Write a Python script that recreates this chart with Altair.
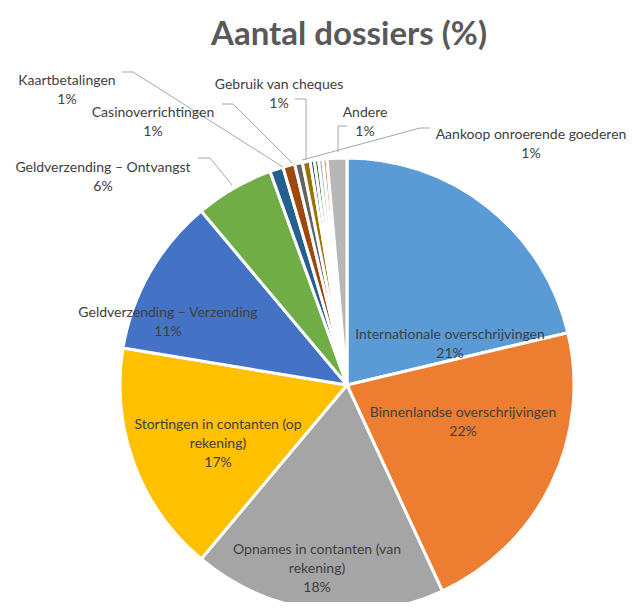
import altair as alt
import pandas as pd

# ---- data -------------------------------------------------------------
categories = [
    "Internationale overschrijvingen",
    "Binnenlandse overschrijvingen",
    "Opnames in contanten (van rekening)",
    "Stortingen in contanten (op rekening)",
    "Geldverzending – Verzending",
    "Geldverzending – Ontvangst",
    "Kaartbetalingen",
    "Casinoverrichtingen",
    "Aankoop onroerende goederen",
    "Gebruik van cheques",
    "cat11",
    "cat12",
    "cat13",
    "cat14",
    "Andere",
]
values = [21.3, 21.8, 18.0, 16.5, 11.3, 5.6, 0.95, 0.85, 0.55, 0.55, 0.3, 0.3, 0.3, 0.3, 1.4]
colors = [
    "#5B9BD5", "#ED7D31", "#A5A5A5", "#FFC000", "#4472C4", "#70AD47",
    "#255E91", "#9E480E", "#636363", "#997300", "#264478", "#43682B",
    "#7CAFDD", "#F1975A", "#B7B7B7",
]

label_text = [
    "Internationale overschrijvingen\n21%",
    "Binnenlandse overschrijvingen\n22%",
    "Opnames in contanten (van\nrekening)\n18%",
    "Stortingen in contanten (op\nrekening)\n17%",
    "Geldverzending – Verzending\n11%",
    "Geldverzending – Ontvangst\n6%",
    "Kaartbetalingen\n1%",
    "Casinoverrichtingen\n1%",
    "Aankoop onroerende goederen\n1%",
    "Gebruik van cheques\n1%",
    "Andere\n1%",
]
# label centres (page pixels)
label_x = [450, 463, 317, 218, 168, 103, 67, 153, 531, 279, 365]
label_y = [335, 413, 550, 425, 313, 167.5, 81, 113, 134.5, 85, 112.5]

# leader lines (page pixels): id, x, y in drawing order
leader_id = ["k", "k", "k", "c", "c", "c", "g", "g", "g", "a", "a", "a", "o", "o", "o", "v", "v", "v"]
leader_x = [122, 133, 283, 222, 233, 292, 295, 306, 306, 347, 338, 338, 430, 420, 302, 198, 210, 232]
leader_y = [72, 72, 167, 104, 104, 163, 99, 99, 160, 126, 126, 152, 128, 128, 160, 158, 158, 185]

TITLE = "Aantal dossiers (%)"
OFF = 8  # page margin

# ---- tables -----------------------------------------------------------
df = pd.DataFrame({"cat": categories, "value": values, "idx": range(len(values))})
df_lab = pd.DataFrame({
    "text": label_text,
    "x": [v - OFF for v in label_x],
    "y": [v - OFF for v in label_y],
})
df_lines = pd.DataFrame({
    "lid": leader_id,
    "ord": list(range(len(leader_id))),
    "x": [v - OFF for v in leader_x],
    "y": [v - OFF for v in leader_y],
})

W, H = 624, 594
CX, CY, R = 347 - OFF, 385 - OFF, 227

pie = alt.Chart(df).mark_arc(outerRadius=R, stroke="white", strokeWidth=3).encode(
    theta=alt.Theta("value:Q", stack=True),
    color=alt.Color("cat:N", scale=alt.Scale(domain=categories, range=colors), legend=None),
    order=alt.Order("idx:Q"),
    x=alt.value(CX),
    y=alt.value(CY),
)

lines = alt.Chart(df_lines).mark_line(color="#A6A6A6", strokeWidth=1).encode(
    x=alt.X("x:Q", scale=None, axis=None),
    y=alt.Y("y:Q", scale=None, axis=None),
    detail="lid:N",
    order="ord:Q",
)

labels = alt.Chart(df_lab).mark_text(
    font="Lato", fontSize=14, color="#404040", lineBreak="\n", lineHeight=19,
    align="center", baseline="middle",
).encode(
    x=alt.X("x:Q", scale=None, axis=None),
    y=alt.Y("y:Q", scale=None, axis=None),
    text="text:N",
)

title = alt.Chart(pd.DataFrame({"t": [TITLE]})).mark_text(
    font="Lato", fontSize=33, fontWeight="bold", color="#595959",
    align="center", baseline="alphabetic",
).encode(
    x=alt.value(349 - OFF), y=alt.value(45 - OFF), text="t:N"
)

chart = alt.layer(pie, lines, labels, title).properties(
    width=W, height=H, padding=0, autosize=alt.AutoSizeParams(type="none")
).configure_view(stroke=None).resolve_scale(color="independent")

chart.save("out.html", embed_options={"renderer": "svg", "actions": False})
